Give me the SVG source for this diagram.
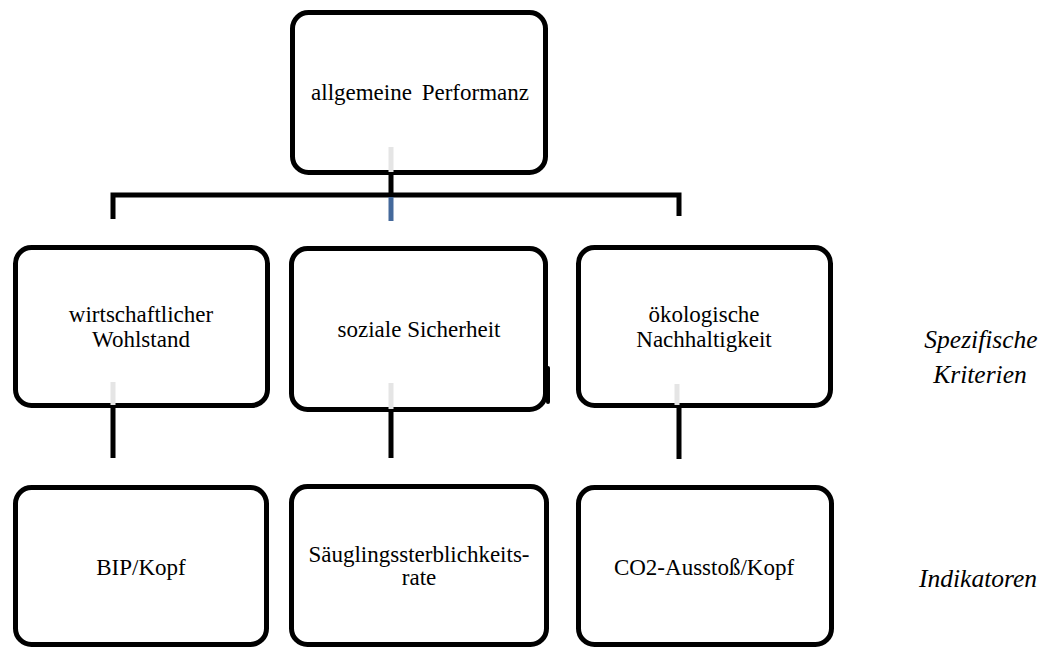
<svg xmlns="http://www.w3.org/2000/svg" width="1042" height="648" viewBox="0 0 1042 648">
<style>
.box{fill:#fff;stroke:#000;stroke-width:5}
.t{font-family:"Liberation Serif","Times New Roman",serif;font-size:23px;fill:#000;text-anchor:middle}
.side{font-family:"Liberation Serif","Times New Roman",serif;font-size:25.5px;font-style:italic;fill:#000;text-anchor:middle}
.con{fill:none;stroke:#000;stroke-width:5}
.stub{stroke:#e5e5e5;stroke-width:5}
.blue{stroke:#44699b;stroke-width:5}
</style>
<rect width="1042" height="648" fill="#fff"/>
<g id="connectors">
<path class="con" d="M391,173 V195 M113,219 V195 H679 V216"/>
<line class="blue" x1="391" y1="197" x2="391" y2="221"/>
<path class="con" d="M113,406 V458 M391,410 V458 M679,406 V459"/>
</g>
<g id="n_top">
<rect class="box" x="292.5" y="12.5" width="253" height="160" rx="16"/>
<text class="t" x="420" y="100" word-spacing="4">allgemeine Performanz</text>
<line class="stub" x1="391" y1="147" x2="391" y2="172"/>
</g>
<g id="n_wirtschaft">
<rect class="box" x="15.5" y="247.5" width="252" height="158" rx="16"/>
<text class="t" x="141" y="322">wirtschaftlicher</text>
<text class="t" x="141" y="347">Wohlstand</text>
<line class="stub" x1="113" y1="382" x2="113" y2="405"/>
</g>
<g id="n_sozial">
<rect class="box" x="291.5" y="248.5" width="254" height="161" rx="16"/>
<path d="M548,368 V402" stroke="#000" stroke-width="4" stroke-linecap="round"/>
<text class="t" x="419" y="337">soziale Sicherheit</text>
<line class="stub" x1="391" y1="383" x2="391" y2="409"/>
</g>
<g id="n_oeko">
<rect class="box" x="578.5" y="247.5" width="252" height="158" rx="16"/>
<text class="t" x="704" y="322">ökologische</text>
<text class="t" x="704" y="347">Nachhaltigkeit</text>
<line class="stub" x1="677" y1="384" x2="677" y2="405"/>
</g>
<g id="n_bip">
<rect class="box" x="15.5" y="487.5" width="251" height="157" rx="16"/>
<text class="t" x="141" y="575">BIP/Kopf</text>
</g>
<g id="n_saeugling">
<rect class="box" x="291.5" y="486.5" width="255" height="158" rx="16"/>
<text class="t" x="419" y="562">Säuglingssterblichkeits-</text>
<text class="t" x="419" y="585">rate</text>
</g>
<g id="n_co2">
<rect class="box" x="578.5" y="487.5" width="253" height="157" rx="16"/>
<text class="t" x="704" y="575">CO2-Ausstoß/Kopf</text>
</g>
<g id="labels">
<text class="side" x="981" y="348">Spezifische</text>
<text class="side" x="980" y="383">Kriterien</text>
<text class="side" x="978" y="587">Indikatoren</text>
</g>
</svg>
